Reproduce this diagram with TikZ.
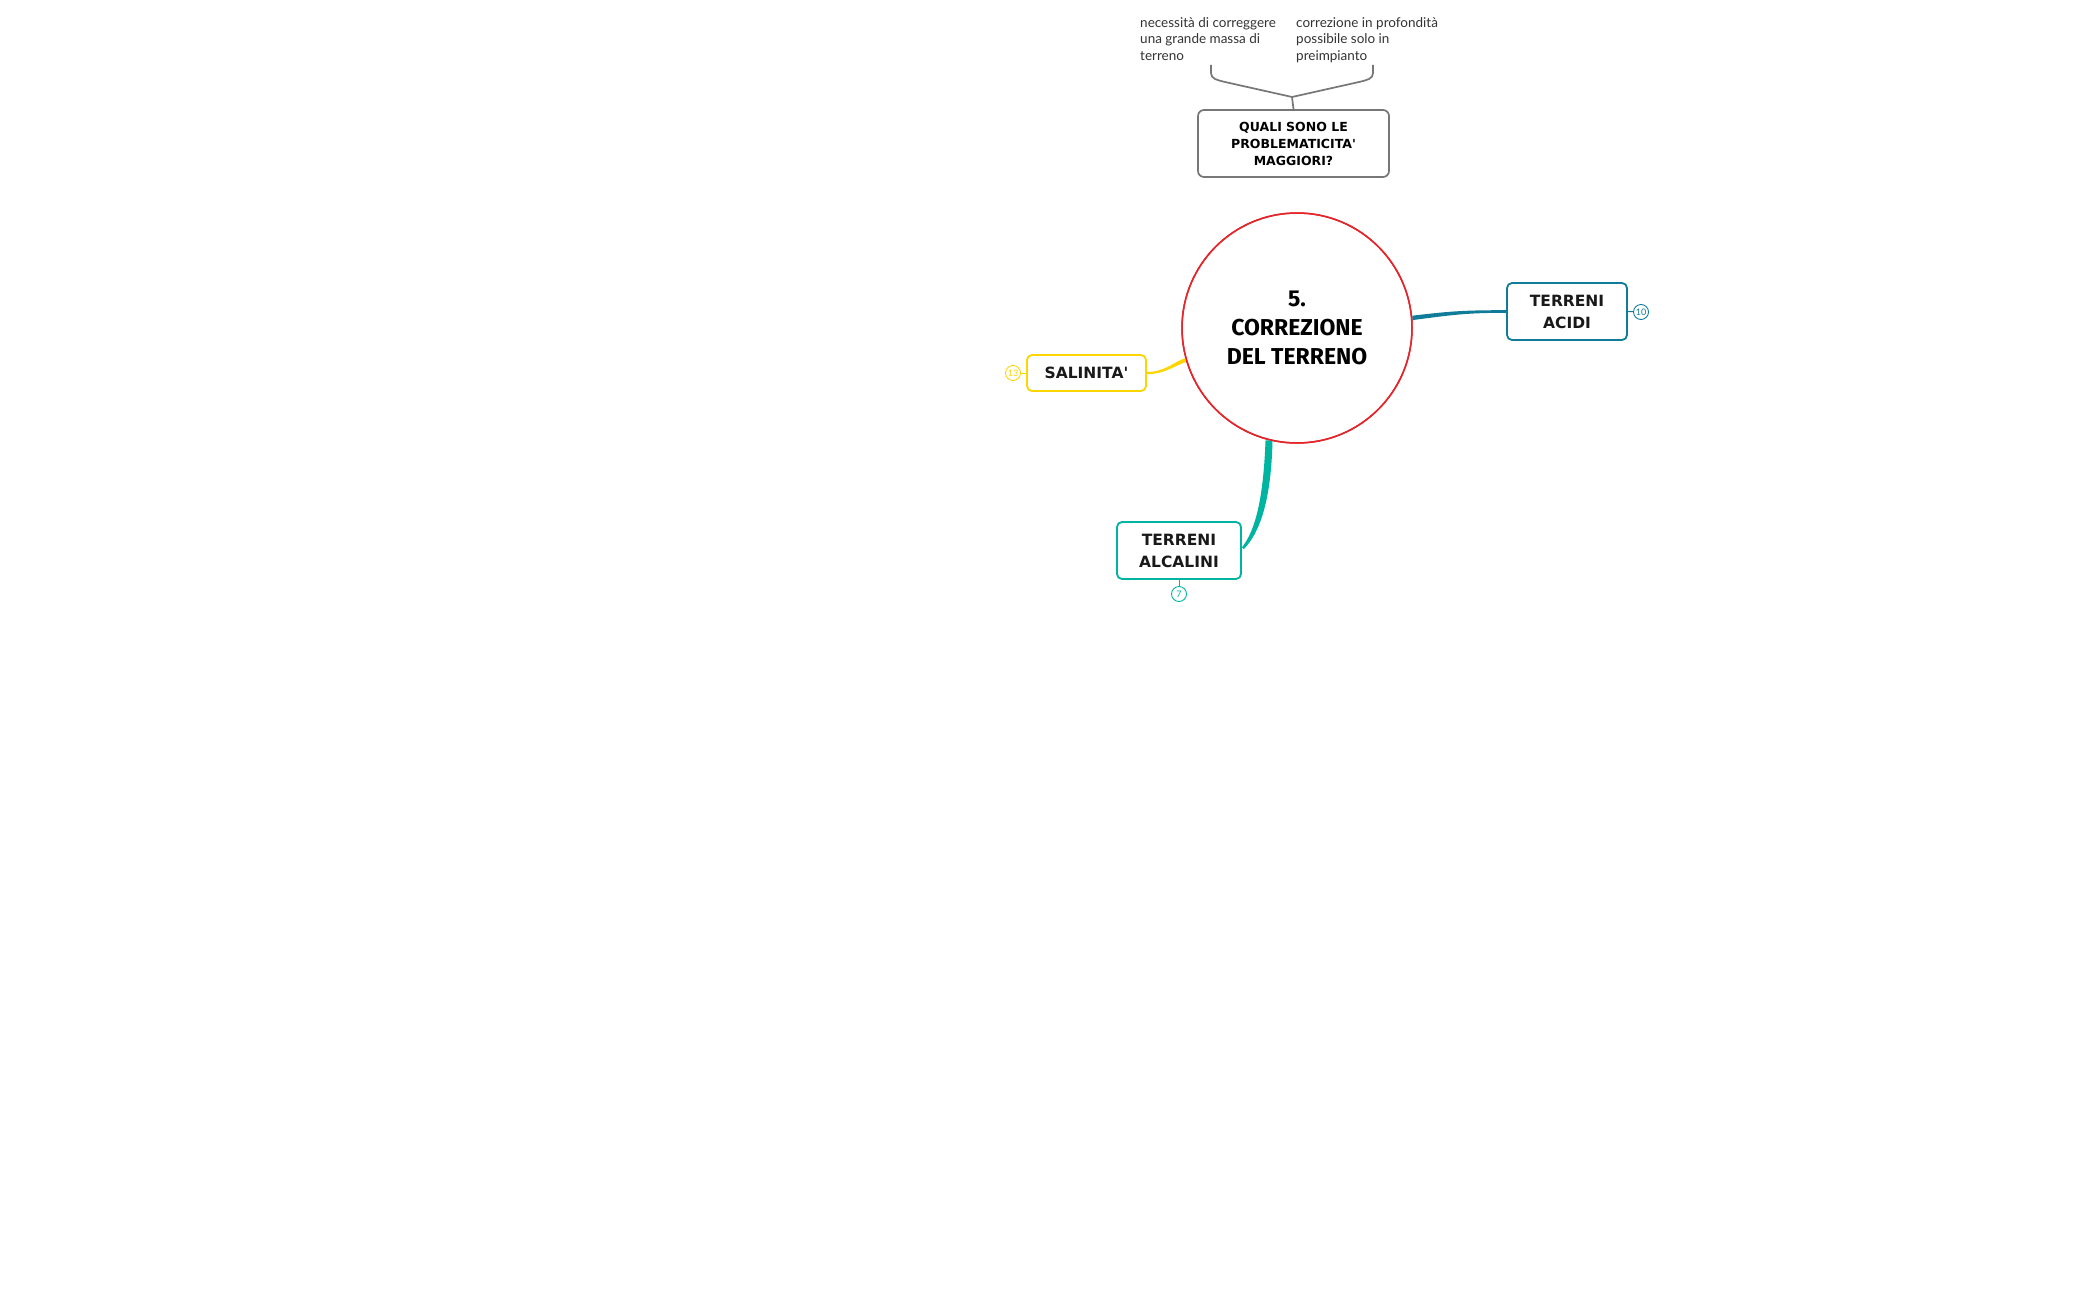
\documentclass[tikz,border=0pt]{standalone}
\usepackage{fontspec}
\setmainfont{Lato}
\newfontfamily\boxfnt{DejaVu Sans}
\newfontfamily\centfnt{Fira Sans}
\usetikzlibrary{calc}
\definecolor{cred}{HTML}{E3262B}
\definecolor{cacid}{HTML}{117C9A}
\definecolor{cyel}{HTML}{FDD500}
\definecolor{cteal}{HTML}{00B4A2}
\definecolor{cgray}{HTML}{777777}
\definecolor{ctext}{HTML}{333333}
\begin{document}
\begin{tikzpicture}[x=1pt,y=-1pt,
  topic/.style={draw, rounded corners=5pt, line width=1.8pt, fill=white, align=center,
    inner sep=0pt, font=\boxfnt\bfseries\fontsize{15.5}{22}\selectfont, text=black!90},
  numb/.style={circle, draw, line width=0.9pt, fill=white, inner sep=0pt, minimum size=15pt,
    font=\fontsize{9}{9}\selectfont},
  note/.style={anchor=north west, inner sep=0pt, align=left, text=ctext,
    font=\fontsize{13.5}{16.8}\selectfont},
  link/.style={line width=1pt}
]
\useasboundingbox (0,0) rectangle (2100,1300);
\fill[white] (0,0) rectangle (2100,1300);

% central topic
\node[circle, draw=cred, line width=1.5pt, minimum size=230pt, inner sep=0pt, fill=white,
      align=center, font=\centfnt\bfseries\fontsize{23}{29}\selectfont, text=black]
      (c) at (1297,328) {5.\\CORREZIONE\\DEL TERRENO};

% branches
\node[topic, draw=cacid, minimum width=120pt, minimum height=57pt] (ac) at (1567,311.5) {TERRENI\\ACIDI};
\node[topic, draw=cyel, minimum width=119pt, minimum height=36pt] (sal) at (1086.5,373) {SALINITA'};
\node[topic, draw=cteal, minimum width=124pt, minimum height=57pt] (al) at (1179,550.5) {TERRENI\\ALCALINI};

% tapered connectors
\fill[cacid] ($(c.5)+(0,-2.2)$) .. controls ($(c.5)+(40,-7)$) and ($(ac.west)+(-40,-1.3)$) .. ($(ac.west)+(0,-1.3)$)
   -- ($(ac.west)+(0,1.3)$) .. controls ($(ac.west)+(-40,1.3)$) and ($(c.5)+(40,-3)$) .. ($(c.5)+(0,2.2)$) -- cycle;
\fill[cyel] ($(sal.east)+(0,-1.1)$) .. controls ($(sal.east)+(18,-1)$) and ($(c.196)+(-14,3)$) .. ($(c.196)+(0,-2)$)
   -- ($(c.196)+(0.5,2)$) .. controls ($(c.196)+(-14,7)$) and ($(sal.east)+(18,1)$) .. ($(sal.east)+(0,1.1)$) -- cycle;
\fill[cteal] ($(c.256)+(-3.5,0)$) .. controls ($(c.256)+(-6,70)$) and ($(al.east)+(10,-16)$) .. ($(al.east)+(0,-3)$)
   -- ($(al.east)+(2,-1.5)$) .. controls ($(al.east)+(14,-14)$) and ($(c.256)+(2,70)$) .. ($(c.256)+(3.5,0)$) -- cycle;
% redraw circle border on top of connector ends
\draw[cred, line width=1.5pt] (c.center) circle[radius=115pt];

% number bubbles
\node[numb, draw=cacid, text=cacid] (n10) at (1641,312) {10};
\node[numb, draw=cyel, text=cyel] (n13) at (1013,373) {13};
\node[numb, draw=cteal, text=cteal] (n7) at (1179,594) {7};
\draw[link, cacid] (ac.east) -- (n10);
\draw[link, cyel] (sal.west) -- (n13);
\draw[link, cteal] (al.south) -- (n7);

% question box
\node[draw=cgray, rounded corners=6pt, line width=1.7pt, minimum width=191pt, minimum height=67pt,
      inner sep=0pt, align=center, font=\boxfnt\bfseries\fontsize{12.5}{17}\selectfont, text=black]
      (q) at (1293.5,143.5) {QUALI SONO LE\\PROBLEMATICITA'\\MAGGIORI?};

% notes
\node[note] (t1) at (1140,17) {necessità di correggere\\una grande massa di\\terreno};
\node[note] (t2) at (1296,17) {correzione in profondità\\possibile solo in\\preimpianto};

% brace
\coordinate (bm) at (1292,97);
\coordinate (bl) at (1211,65);
\coordinate (br) at (1373,65);
\draw[cgray, line width=1.7pt, line join=round]
  (bl) -- ++(0,8) .. controls ++(0,6) and ++(-8,-2) .. ++(14,9) -- (bm)
  -- ($(br)+(-14,17)$) .. controls ++(8,-2) and ++(0,6) .. ($(br)+(0,8)$) -- (br);
\draw[cgray, line width=1.7pt] (bm) -- (q.north);
\end{tikzpicture}
\end{document}
